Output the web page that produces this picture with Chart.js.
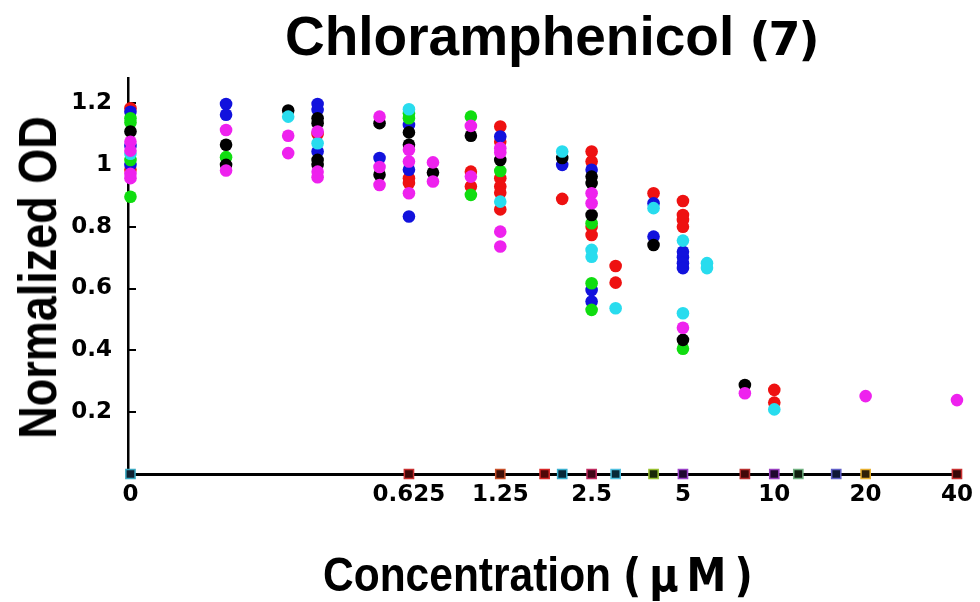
<!DOCTYPE html>
<html lang="en">
<head>
<meta charset="UTF-8" />
<title>Chloramphenicol (7)</title>
<script src="https://cdn.jsdelivr.net/npm/chart.js"></script>
<style>
  body { margin: 0; background: #fff; }
  #wrap { position: relative; width: 980px; height: 602px; overflow: hidden; }
  canvas { position: absolute; left: 0; top: 0; }
  .title {
    position: absolute; left: 285px; top: 4px;
    white-space: nowrap; line-height: 1; color: #000;
    font: bold 55px 'Liberation Sans', Arial, sans-serif;
  }
  .title .note { font-family: 'DejaVu Sans', sans-serif; font-size: 46px; letter-spacing: -2px; line-height: 0; }
  .xtitle {
    position: absolute; left: 323px; top: 553px;
    white-space: nowrap; line-height: 1; color: #000;
    font: bold 42.5px 'Liberation Sans', Arial, sans-serif;
    transform: scaleY(1.15); transform-origin: 0 36px;
  }
  .xtitle .unit { font-family: 'DejaVu Sans', sans-serif; font-size: 40px; letter-spacing: 8px; line-height: 0; }
  .ytitle {
    position: absolute; left: -166px; top: 254.5px; width: 400px; height: 45px;
    text-align: center; white-space: nowrap; line-height: 1; color: #000;
    font: bold 45px 'Liberation Sans', Arial, sans-serif;
    transform: rotate(-90deg) scaleY(1.2);
  }
</style>
</head>
<body>
<div id="wrap">
  <canvas id="chart" width="980" height="602"></canvas>
  <div class="title">Chloramphenicol <span class="note">(7)</span></div>
  <div class="xtitle">Concentration <span class="unit">(μM)</span></div>
  <div class="ytitle">Normalized OD</div>
</div>

<script>
// x ticks (µM), drawn on a log2 axis; 0 sits just left of the lowest dose
const CONC_TICKS = [0, 0.625, 1.25, 2.5, 5, 10, 20, 40];
const CONC_LABELS = ['0', '0.625', '1.25', '2.5', '5', '10', '20', '40'];
const OD_TICKS = [0.2, 0.4, 0.6, 0.8, 1, 1.2];
const OD_LABELS = ['0.2', '0.4', '0.6', '0.8', '1', '1.2'];

// [concentration µM, normalized OD]
const red = [
  [0, 1.183], [0, 0.984], [0.3125, 1.10],
  [0.625, 0.957], [0.625, 0.941], [1, 0.978], [1, 0.93],
  [1.25, 1.124], [1.25, 1.075], [1.25, 0.957], [1.25, 0.93], [1.25, 0.91], [1.25, 0.856],
  [2, 0.89], [2.5, 1.043], [2.5, 1.011], [2.5, 0.80], [2.5, 0.773],
  [3, 0.673], [3, 0.619], [4, 0.908],
  [5, 0.883], [5, 0.838], [5, 0.822], [5, 0.80],
  [10, 0.272], [10, 0.231]
];
const blue = [
  [0, 1.172], [0, 1.061], [0, 1.0], [0.156, 1.197], [0.156, 1.162],
  [0.3125, 1.197], [0.3125, 1.178], [0.3125, 1.043], [0.5, 1.022],
  [0.625, 1.129], [0.625, 0.984], [0.625, 0.833], [1.25, 1.092], [2, 1.0],
  [2.5, 0.984], [2.5, 0.595], [2.5, 0.558], [4, 0.876], [4, 0.768],
  [5, 0.719], [5, 0.701], [5, 0.682], [5, 0.666]
];
const green = [
  [0, 1.151], [0, 1.137], [0, 1.016], [0, 0.897], [0.156, 1.025],
  [0.625, 1.167], [0.625, 1.151], [1, 1.156], [1, 0.903], [1.25, 0.98],
  [2.5, 0.811], [2.5, 0.617], [2.5, 0.531], [5, 0.405]
];
const black = [
  [0, 1.108], [0.156, 1.065], [0.156, 1.0], [0.25, 1.176],
  [0.3125, 1.151], [0.3125, 1.135], [0.3125, 1.016], [0.3125, 1.0],
  [0.5, 1.135], [0.5, 0.968], [0.625, 1.105], [0.625, 1.065], [0.75, 0.975],
  [1, 1.094], [1.25, 1.016], [2, 1.022], [2.5, 0.962], [2.5, 0.941], [2.5, 0.838],
  [4, 0.741], [5, 0.434], [8, 0.288]
];
const magenta = [
  [0, 1.075], [0, 1.046], [0, 0.971], [0, 0.957], [0.156, 1.113], [0.156, 0.982],
  [0.25, 1.094], [0.25, 1.038], [0.3125, 1.108], [0.3125, 0.978], [0.3125, 0.96],
  [0.5, 1.156], [0.5, 0.993], [0.5, 0.935], [0.625, 1.049], [0.625, 1.011], [0.625, 0.908],
  [0.75, 1.008], [0.75, 0.946], [1, 1.126], [1, 0.962],
  [1.25, 1.054], [1.25, 1.04], [1.25, 0.784], [1.25, 0.736],
  [2.5, 0.908], [2.5, 0.876], [5, 0.473], [8, 0.261], [20, 0.252], [40, 0.239]
];
const cyan = [
  [0, 1.036], [0.25, 1.156], [0.3125, 1.07], [0.625, 1.18], [1.25, 0.881],
  [2, 1.043], [2.5, 0.725], [2.5, 0.703], [3, 0.536], [4, 0.86],
  [5, 0.755], [5, 0.52], [6, 0.682], [6, 0.666], [10, 0.209]
];

// small square markers sitting on the zero line
const BASE_CONC = [0, 0.625, 1.25, 1.75, 2, 2.5, 3, 4, 5, 8, 10, 12, 16, 20, 40];
const BASE_EDGE = ['#3aa7c0', '#c83030', '#c8502a', '#d82828', '#3ab0d0', '#c02a60', '#50c0e0',
  '#98c030', '#9a40c8', '#b83030', '#9a40c0', '#70b080', '#6060c8', '#e8b030', '#c83030'];
const BASE_FILL = ['#102030', '#400808', '#401008', '#500808', '#082838', '#400818', '#082838',
  '#1a2808', '#200830', '#400808', '#200830', '#102010', '#101838', '#302008', '#380808'];

const ZERO_AT = -3.727;
const toX = c => c === 0 ? ZERO_AT : Math.log2(c);
const pts = arr => arr.map(([c, v]) => ({ x: toX(c), y: v }));

function series(label, data, color) {
  return {
    label: label,
    data: pts(data),
    backgroundColor: color,
    borderColor: color,
    borderWidth: 0,
    pointRadius: 6.3,
    pointHoverRadius: 6.3,
    clip: false
  };
}

const tickFont = { family: "'DejaVu Sans', sans-serif", weight: 'bold', size: 23 };

// tick marks point inward from the y axis
const innerTicks = {
  id: 'innerTicks',
  beforeDatasetsDraw(chart) {
    const { ctx, chartArea, scales } = chart;
    ctx.save();
    ctx.strokeStyle = '#000';
    ctx.lineWidth = 2;
    OD_TICKS.forEach(v => {
      const py = Math.round(scales.y.getPixelForValue(v));
      ctx.beginPath();
      ctx.moveTo(chartArea.left, py);
      ctx.lineTo(chartArea.left + 8, py);
      ctx.stroke();
    });
    ctx.restore();
  }
};

new Chart(document.getElementById('chart'), {
  type: 'scatter',
  data: {
    datasets: [
      {
        label: 'zero',
        data: BASE_CONC.map(c => ({ x: toX(c), y: 0 })),
        pointStyle: 'rect',
        pointRadius: 6.5,
        backgroundColor: BASE_FILL,
        borderColor: BASE_EDGE,
        borderWidth: 1.5,
        clip: false
      },
      series('magenta', magenta, '#ee22ee'),
      series('cyan', cyan, '#28dcee'),
      series('black', black, '#000000'),
      series('green', green, '#10dd10'),
      series('blue', blue, '#1212dd'),
      series('red', red, '#ee1111')
    ]
  },
  options: {
    responsive: false,
    animation: false,
    layout: { padding: { top: 78, right: 7, bottom: 0, left: 0 } },
    plugins: { legend: { display: false }, tooltip: { enabled: false } },
    scales: {
      x: {
        type: 'linear',
        min: -3.754,
        max: 5.365,
        afterBuildTicks: s => { s.ticks = CONC_TICKS.map(c => ({ value: toX(c) })); },
        afterFit: s => { s.height = 128; },
        grid: { display: false, drawTicks: false },
        border: { display: true, color: '#000', width: 3 },
        ticks: {
          autoSkip: false, maxRotation: 0, padding: 7, color: '#000', font: tickFont,
          callback: (v, i) => CONC_LABELS[i]
        }
      },
      y: {
        min: 0,
        max: 1.281,
        afterBuildTicks: s => { s.ticks = OD_TICKS.map(v => ({ value: v })); },
        afterFit: s => { s.width = 128; },
        grid: { display: false, drawTicks: false },
        border: { display: true, color: '#000', width: 2.5 },
        ticks: {
          padding: 16, color: '#000', font: tickFont,
          callback: (v, i) => OD_LABELS[i]
        }
      }
    }
  },
  plugins: [innerTicks]
});
</script>
</body>
</html>
